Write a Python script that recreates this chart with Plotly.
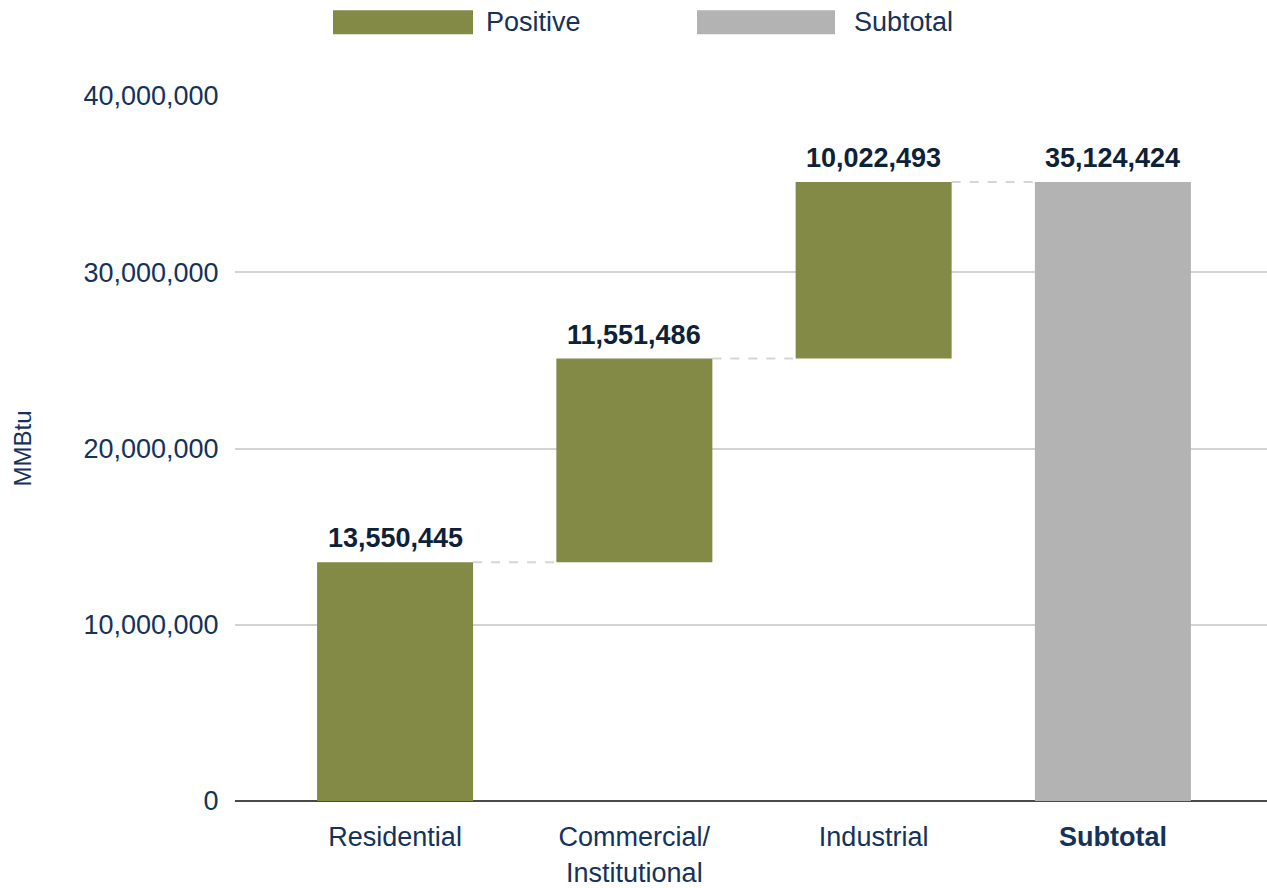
import plotly.graph_objects as go

categories = ["Residential", "Commercial/<br>Institutional", "Industrial", "<b>Subtotal</b>"]
positive_values = [13550445, 11551486, 10022493]
subtotal_value = 35124424
legend_names = ["Positive", "Subtotal"]
y_ticks = [0, 10000000, 20000000, 30000000, 40000000]

GREEN = "#828A45"
GRAY = "#B3B3B3"
NAVY = "#14325A"
LABEL = "#0D2137"
FONT = "Arial, Liberation Sans, sans-serif"
FS = 27
BAR_W = 0.652

# cumulative bases
bases = []
run = 0
for v in positive_values:
    bases.append(run)
    run += v
tops = [b + v for b, v in zip(bases, positive_values)]

fig = go.Figure()
fig.add_trace(go.Bar(
    x=categories[:3], y=positive_values, base=bases,
    marker=dict(color=GREEN, line=dict(width=0)), width=BAR_W,
    name=legend_names[0], showlegend=False, hoverinfo="skip",
))
fig.add_trace(go.Bar(
    x=categories[3:], y=[subtotal_value], base=[0],
    marker=dict(color=GRAY, line=dict(width=0)), width=BAR_W,
    name=legend_names[1], showlegend=False, hoverinfo="skip",
))

# data labels
all_tops = tops + [subtotal_value]
all_vals = positive_values + [subtotal_value]
for i, (t, v) in enumerate(zip(all_tops, all_vals)):
    fig.add_annotation(
        x=categories[i], y=t, text=f"<b>{v:,}</b>", showarrow=False,
        yanchor="bottom", yshift=7,
        font=dict(family=FONT, size=FS, color=LABEL),
    )

# connectors
shapes = []
for i, t in enumerate(tops):
    shapes.append(dict(
        type="line", xref="x", yref="y",
        x0=i + BAR_W / 2, x1=i + 1 - BAR_W / 2, y0=t, y1=t,
        line=dict(color="#D6D6D6", width=2, dash="dash"), layer="below",
    ))

# custom legend (wide swatches)
W, H = 1267, 888
ml, mr, mt, mb = 235, 0, 96, 84
pw, ph = W - ml - mr, H - mt - mb

def px_x(x):
    return (x - ml) / pw

def px_y(y):
    return (H - mb - y) / ph

for (x0, x1, tx), col, name in zip([(333, 473, 484), (697, 835, 852)], [GREEN, GRAY], legend_names):
    shapes.append(dict(type="rect", xref="paper", yref="paper",
                       x0=px_x(x0), x1=px_x(x1), y0=px_y(34), y1=px_y(10),
                       fillcolor=col, line=dict(width=0)))
    fig.add_annotation(x=px_x(tx), y=px_y(22), xref="paper", yref="paper",
                       text=name, showarrow=False, xanchor="left", yanchor="middle",
                       font=dict(family=FONT, size=FS, color=NAVY))

fig.update_layout(
    width=W, height=H,
    margin=dict(l=ml, r=mr, t=mt, b=mb),
    plot_bgcolor="white", paper_bgcolor="white",
    shapes=shapes, showlegend=False,
    font=dict(family=FONT, size=FS, color=NAVY),
    xaxis=dict(
        type="category", range=[-0.669, 3.644],
        showgrid=False, ticks="outside", ticklen=12, tickcolor="rgba(0,0,0,0)",
        tickfont=dict(family=FONT, size=FS, color=NAVY),
        showline=False, zeroline=False,
    ),
    yaxis=dict(
        range=[0, 40000000], tickvals=y_ticks,
        ticktext=[f"{v:,}" for v in y_ticks],
        showgrid=True, gridcolor="#D3D3D3", gridwidth=2,
        zeroline=True, zerolinecolor="#4A4A4A", zerolinewidth=2,
        ticks="outside", ticklen=10, tickcolor="rgba(0,0,0,0)",
        tickfont=dict(family=FONT, size=FS, color=NAVY),
        title=dict(text="MMBtu", font=dict(family=FONT, size=24, color=NAVY), standoff=45),
    ),
)

fig.write_html("out.html", config={"displayModeBar": False},
               post_script="document.body.style.margin='0px';document.body.style.overflow='hidden';")
